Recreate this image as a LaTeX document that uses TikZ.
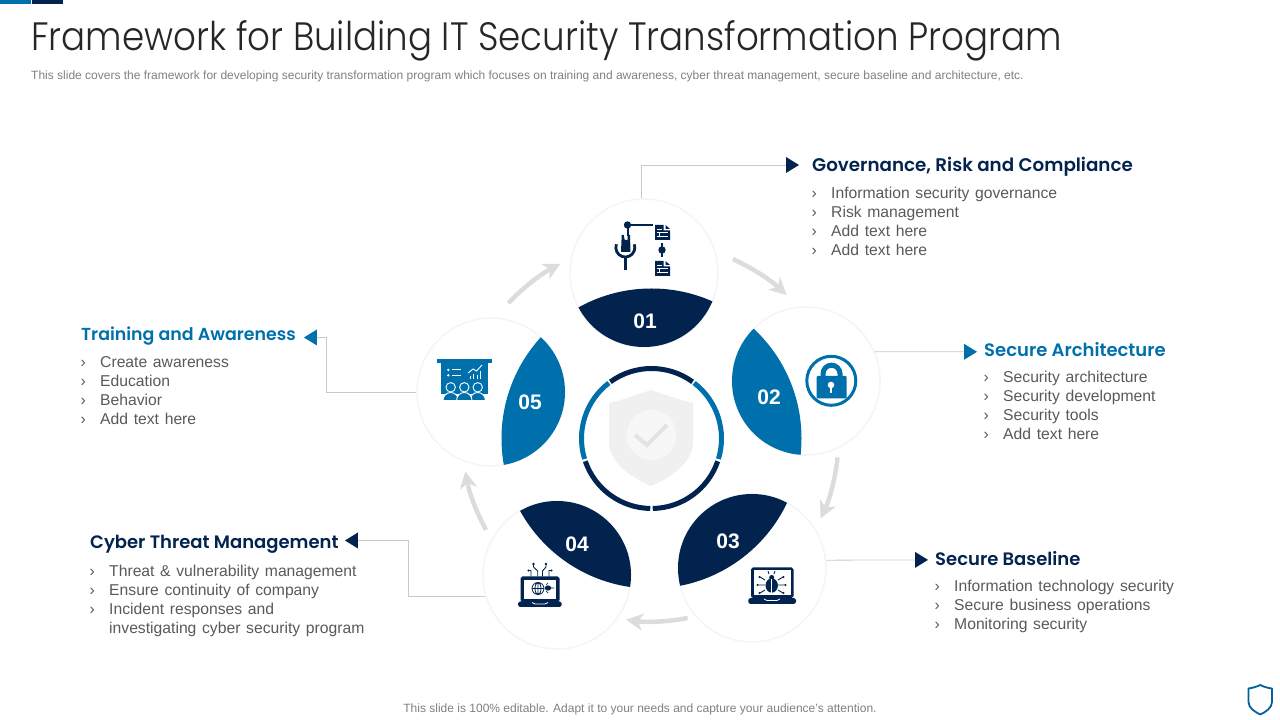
\documentclass[tikz,border=0pt]{standalone}
\usepackage{fontspec}
\setmainfont{Liberation Sans}
\newfontfamily\titlefont[FakeStretch=0.9]{Poppins Light}
\newfontfamily\headfont{Poppins SemiBold}
\newfontfamily\bodyfont[WordSpace=1.3]{Liberation Sans}
\usetikzlibrary{arrows.meta,positioning,shapes.geometric}
\definecolor{navyc}{HTML}{03234F}
\definecolor{bluec}{HTML}{0070AD}
\definecolor{greyarrow}{HTML}{DCDCDC}
\definecolor{greyleader}{HTML}{C9C9C9}
\definecolor{greybody}{HTML}{595959}
\tikzset{
  stepcircle/.style={circle, draw=black!4, line width=1.6pt, fill=white, minimum size=148pt, inner sep=0pt},
  leader/.style={draw=greyleader, line width=0.8pt},
  flowarrow/.style={draw=greyarrow, line width=4.5pt, -{Stealth[length=17pt,width=17pt,inset=5pt]}},
  headtri/.style={isosceles triangle, isosceles triangle stretches, minimum width=16pt, minimum height=13pt, inner sep=0pt, fill=#1},
  headtext/.style={anchor=base west, inner sep=0pt, text=#1, font=\headfont\fontsize{18}{22}\selectfont},
  listtext/.style={anchor=north west, inner sep=0pt, align=left, text=greybody, font=\bodyfont\fontsize{15.7}{19}\selectfont},
  listmark/.style={anchor=north east, inner sep=0pt, align=left, text=greybody, font=\bodyfont\fontsize{15.7}{19}\selectfont},
  stepnum/.style={text=white, inner sep=0pt, font=\bfseries\fontsize{21}{24}\selectfont},
  docsheet/.pic={
    \fill[navyc] (0,0) -- (8.5,0) -- (8.5,-5.5) -- (15,-5.5) -- (15,-15) -- (0,-15) -- cycle;
    \fill[navyc] (10.5,0) -- (15,-4) -- (10.5,-4) -- cycle;
    \draw[white, line width=0.9pt] (1.8,-4) -- (6.5,-4) (1.8,-7.5) -- (13.2,-7.5) (1.8,-11) -- (13.2,-11);
    \draw[white, line width=0.9pt] (4.5,-7.5) -- (4.5,-11);
  },
  lappad/.style={fill=navyc, rounded corners=1.8pt}
}
\begin{document}
\begin{tikzpicture}[x=1pt,y=1pt]
    \useasboundingbox (0,0) rectangle (1280,720);
    %% Top bars
    \fill[bluec] (0,720) rectangle (31,716);
    \fill[navyc] (32,720) rectangle (63,716);
    %% Texts on top and bottom
    \node[anchor=base west, inner sep=0pt, text=black!85, font=\titlefont\fontsize{39.6}{42}\selectfont] (title) at (31,669) {Framework for Building IT Security Transformation Program};
    \node[anchor=base west, inner sep=0pt, text=black!50, font=\fontsize{12}{14}\selectfont] (subtitle) at (31,640) {This slide covers the framework for developing security transformation program which focuses on training and awareness, cyber threat management, secure baseline and architecture, etc.};
    \node[anchor=base, inner sep=0pt, text=black!50, font=\fontsize{12}{14}\selectfont] (footer) at (640,7) {This slide is 100\% editable. Adapt it to your needs and capture your audience's attention.};
    %% Step circles
    \coordinate (hub) at (651.5,281.5);
    \node[stepcircle] (c1) at (644,447) {};
    \node[stepcircle] (c2) at (806,339) {};
    \node[stepcircle] (c3) at (752,152) {};
    \node[stepcircle] (c4) at (557,145) {};
    \node[stepcircle] (c5) at (491,328) {};
    %% Leaves
    \begin{scope}
      \clip (c1.center) circle (74);
      \fill[navyc] (hub) circle (150);
    \end{scope}
    \begin{scope}
      \clip (c2.center) circle (74);
      \fill[bluec] (hub) circle (150);
    \end{scope}
    \begin{scope}
      \clip (c3.center) circle (74);
      \fill[navyc] (hub) circle (150);
    \end{scope}
    \begin{scope}
      \clip (c4.center) circle (74);
      \fill[navyc] (hub) circle (150);
    \end{scope}
    \begin{scope}
      \clip (c5.center) circle (74);
      \fill[bluec] (hub) circle (150);
    \end{scope}
    \node[stepnum] (n1) at (645,399) {01};
    \node[stepnum] (n2) at (769,323) {02};
    \node[stepnum] (n3) at (728,179) {03};
    \node[stepnum] (n4) at (577,176) {04};
    \node[stepnum] (n5) at (530,318) {05};
    %% Arrows between the circles
    \draw[flowarrow, shift={(hub)}] (136.6:197) arc[start angle=136.6, end angle=117.5, radius=197];
    \draw[flowarrow, shift={(hub)}] (65.6:197) arc[start angle=65.6, end angle=46.7, radius=197];
    \draw[flowarrow, shift={(hub)}] (-5.8:187) arc[start angle=-5.8, end angle=-25.3, radius=187];
    \draw[flowarrow, shift={(hub)}] (-78.6:183) arc[start angle=-78.6, end angle=-98, radius=183];
    \draw[flowarrow, shift={(hub)}] (208.9:189) arc[start angle=208.9, end angle=190, radius=189];
    %% Ring in the middle
    \draw[navyc, line width=5pt, shift={(hub)}] (126:70) arc[start angle=126, end angle=54, radius=70];
    \draw[bluec, line width=5pt, shift={(hub)}] (52.5:70) arc[start angle=52.5, end angle=-17, radius=70];
    \draw[navyc, line width=5pt, shift={(hub)}] (-19:70) arc[start angle=-19, end angle=-89, radius=70];
    \draw[navyc, line width=5pt, shift={(hub)}] (-91:70) arc[start angle=-91, end angle=-161, radius=70];
    \draw[bluec, line width=5pt, shift={(hub)}] (197:70) arc[start angle=197, end angle=127.5, radius=70];
    %% Shield
    \fill[black!6] (651,330) .. controls (636,325) and (622,320) .. (609,317) -- (609,278) .. controls (609,258) and (630,243) .. (651,234) .. controls (672,243) and (693,258) .. (693,278) -- (693,317) .. controls (680,320) and (666,325) .. (651,330) -- cycle;
    \fill[black!3] (651.5,285) circle (25);
    \draw[black!11, line width=4pt] (635,285) -- (647,275) -- (667,295);
    %% Headings
    \node[headtri=navyc] (govtri) at (790.5,555) {};
    \node[headtri=bluec] (archtri) at (968.5,368.2) {};
    \node[headtri=navyc] (basetri) at (919.5,160.1) {};
    \node[headtri=navyc, shape border rotate=180] (cybertri) at (353.5,179.5) {};
    \node[headtri=bluec, shape border rotate=180] (traintri) at (312.5,382.5) {};
    \node[headtext=navyc, font=\headfont\fontsize{18.3}{22}\selectfont] (govhead) at (812,548.2) {Governance, Risk and Compliance};
    \node[headtext=bluec] (archhead) at (984,363.2) {Secure Architecture};
    \node[headtext=navyc] (basehead) at (935,154.2) {Secure Baseline};
    \node[headtext=navyc] (cyberhead) at (90,171.2) {Cyber Threat Management};
    \node[headtext=bluec, font=\headfont\fontsize{17.4}{22}\selectfont] (trainhead) at (81,379.2) {Training and Awareness};
    %% Leader lines
    \coordinate (cyberbend) at (408,179.5);
    \coordinate (trainbend) at (326,382.5);
    \draw[leader] (c1.92) |- (govtri);
    \draw[leader] (c2.23) -- (archtri);
    \draw[leader] (c3.6.2) -- (basetri);
    \draw[leader] (c4.197) -| (cyberbend) -- (cybertri);
    \draw[leader] (c5.180) -| (trainbend) -- (traintri);
    %% Lists
    \node[listtext] (govlist) at (831,534.9) {\strut Information security governance\\Risk management\\Add text here\\Add text here};
    \node[listmark, left=14pt of govlist.north west, anchor=north east] (govmark) {\strut ›\\›\\›\\›};
    \node[listtext] (archlist) at (1003,350.9) {\strut Security architecture\\Security development\\Security tools\\Add text here};
    \node[listmark, left=14pt of archlist.north west, anchor=north east] (archmark) {\strut ›\\›\\›\\›};
    \node[listtext] (baselist) at (954,141.9) {\strut Information technology security\\Secure business operations\\Monitoring security};
    \node[listmark, left=14pt of baselist.north west, anchor=north east] (basemark) {\strut ›\\›\\›};
    \node[listtext] (cyberlist) at (109,156.9) {\strut Threat \& vulnerability management\\Ensure continuity of company\\Incident responses and\\investigating cyber security program};
    \node[listmark, left=14pt of cyberlist.north west, anchor=north east] (cybermark) {\strut ›\\›\\›};
    \node[listtext] (trainlist) at (100,365.9) {\strut Create awareness\\Education\\Behavior\\Add text here};
    \node[listmark, left=14pt of trainlist.north west, anchor=north east] (trainmark) {\strut ›\\›\\›\\›};
    %% Icon 01
    \fill[navyc] (627.5,495) circle (3.7);
    \draw[navyc, line width=1.6pt] (627.5,495) -- (653,495);
    \draw[navyc, line width=2pt] (627.5,495) -- (627.5,484);
    \pic at (655,495) {docsheet};
    \pic at (655,459) {docsheet};
    \draw[navyc, line width=1.6pt] (662,477) -- (662,463);
    \fill[navyc] (662,470) circle (3.7);
    \fill[navyc] (621.7,485) -- (623.7,485) -- (624.7,480) -- (627.5,480) -- (627.5,485) -- (630,485) -- (630.5,468) -- (621,468) -- cycle;
    \draw[navyc, line width=2.8pt] (616.4,475.7) arc[start angle=160, end angle=380, radius=9.5];
    \draw[navyc, line width=2.8pt] (625.3,462) -- (625.3,450);
    %% Icon 02
    \draw[bluec, line width=3pt] (831.3,339.2) circle (24.5);
    \draw[bluec, line width=5pt] (823,340) -- (823,346.3) arc[start angle=180, end angle=0, radius=8.5] -- (840,340);
    \fill[bluec, rounded corners=1pt] (816.7,344) rectangle (846.7,321.7);
    \fill[white] (831,335) circle (3.3);
    \fill[white] (829.6,335) rectangle (832.4,327);
    %% Icon 03
    \fill[lappad] (751,152.5) rectangle (793.5,122);
    \fill[white] (754,149.5) rectangle (790.5,124.5);
    \fill[lappad] (748.3,122) rectangle (796,116);
    \draw[white, line width=0.8pt] (764,121) -- (767,119.5) -- (777,119.5) -- (780,121);
    \fill[navyc] (771.7,134.5) ellipse (6.2 and 7.2);
    \fill[navyc] (771.7,142.5) circle (2.5);
    \draw[white, line width=0.9pt] (771.7,127) -- (771.7,141);
    \draw[navyc, line width=0.9pt] (765,140) -- (760,143) (765,135) -- (758,135) (765,130) -- (760,127) (778,140) -- (783,143) (778,135) -- (785,135) (778,130) -- (783,127) (769,146) -- (768,149) (774,146) -- (775,149);
    \fill[navyc] (759.5,143) circle (1.2) (757.5,135) circle (1.2) (759.5,127) circle (1.2) (783.5,143) circle (1.2) (785.5,135) circle (1.2) (783.5,127) circle (1.2);
    %% Icon 04
    \fill[lappad] (520.5,143.5) rectangle (559.5,118);
    \fill[white] (524,140) rectangle (556,120.5);
    \fill[lappad] (518,118.5) rectangle (561.7,113);
    \draw[white, line width=0.8pt] (532,117.5) -- (535,116) -- (545,116) -- (548,117.5);
    \draw[navyc, line width=0.8pt] (538,131.5) circle (6) (532,131.5) -- (544,131.5) (538,125.5) -- (538,137.5) (538,131.5) ellipse (3 and 6);
    \fill[navyc] (548,132) ellipse (3.2 and 2.6);
    \draw[navyc, line width=0.7pt] (551,132) -- (554,132) (546,135) -- (548,137) (546,129) -- (548,127);
    \draw[navyc, line width=0.9pt] (537.7,143.5) -- (537.7,149) -- (533.5,153) (533.5,153) -- (533.5,156) (531,143.5) -- (531,149.5) -- (529,149.5) (542.5,143.5) -- (542.5,149) -- (546,153) -- (546,156) (549,143.5) -- (549,149.5) -- (551,149.5);
    \fill[navyc] (533.5,156) circle (1.4) (546,156) circle (1.4) (528.5,149.5) circle (1.2) (551.5,149.5) circle (1.2);
    %% Icon 05
    \fill[bluec] (436.7,361) rectangle (491.7,357);
    \fill[bluec] (440.7,357) rectangle (488.3,326);
    \fill[white] (448.3,350) circle (1.3) (448.3,344.7) circle (1.3);
    \draw[white, line width=1pt] (452,350) -- (461,350) (452,344.7) -- (461,344.7);
    \draw[white, line width=0.9pt] (468,347) -- (473,351) -- (476.5,349) -- (482,355);
    \draw[white, line width=1pt] (470,341) -- (470,344) (473.5,341) -- (473.5,346) (477,341) -- (477,345) (480.8,341) -- (480.8,349);
    \foreach \px in {450.7,477.7,464.3}{
      \fill[bluec, draw=white, line width=0.9pt] (\px-7.7,319.5) arc[start angle=180, end angle=0, x radius=7.7, y radius=8] -- cycle;
      \fill[bluec, draw=white, line width=0.9pt] (\px,332.7) circle (4.7);
    }
    %% Shield in the corner
    \draw[bluec!80!navyc, line width=1.8pt, line join=round] (1260.3,35) .. controls (1256,33) and (1252,32) .. (1248.5,31.5) -- (1248.5,18) .. controls (1248.5,12) and (1255,8) .. (1260.3,5.5) .. controls (1265.5,8) and (1272,12) .. (1272,18) -- (1272,31.5) .. controls (1268,32) and (1264,33) .. (1260.3,35) -- cycle;
\end{tikzpicture}
\end{document}
